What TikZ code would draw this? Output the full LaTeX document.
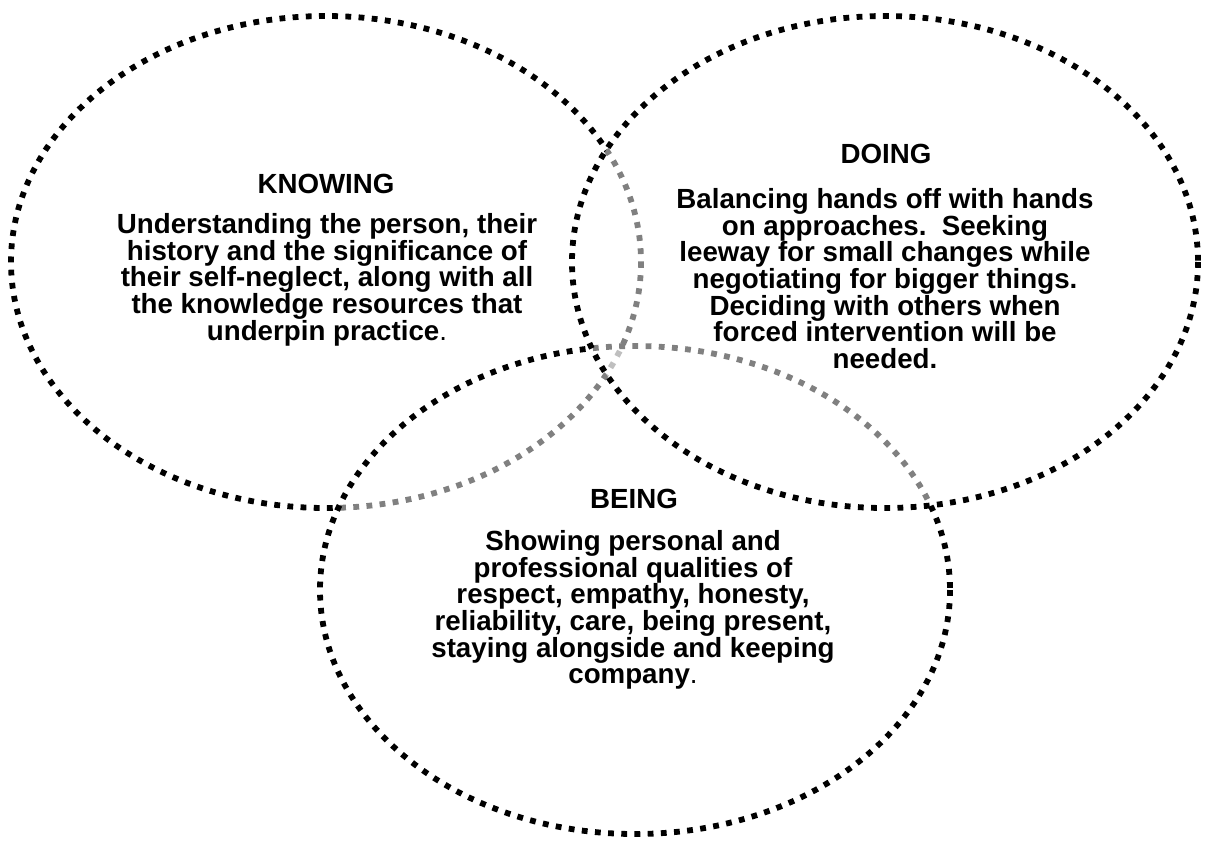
\documentclass[tikz,border=0pt]{standalone}
\usepackage{fontspec}
\setmainfont{Liberation Sans}
\def \ringcolor {black}
\def \ringxradius {315}
\def \ringyradius {246}
\def \textsize {\fontsize{13.85}{13.35}\selectfont\bfseries}
\tikzset{
  ring/.style={draw=\ringcolor, line width=2.9pt, dash pattern=on 2.9pt off 3.7pt,
    fill=white, fill opacity=0.5},
  heading/.style={font=\textsize, inner sep=0pt, anchor=base},
  blurb/.style={font=\textsize, inner sep=0pt, anchor=north, align=center}
}

\begin{document}
\begin{tikzpicture}[x=0.5pt, y=-0.5pt]
\useasboundingbox (0,0) rectangle (1205,842);
% Draw the three rings, back to front
\draw[ring] (326,262) ellipse [x radius=\ringxradius, y radius=\ringyradius];
\draw[ring] (635,590) ellipse [x radius=\ringxradius, y radius=244];
\draw[ring] (885,262) ellipse [x radius=313, y radius=\ringyradius];
% Knowing
\node[heading] (knowinghead) at (326,193) {KNOWING};
\node[blurb] (knowingtext) at (327,213) {Understanding the person, their\\
  history and the significance of\\ their self-neglect, along with all\\
  the knowledge resources that\\ underpin practice\textmd{.}};
% Doing
\node[heading] (doinghead) at (886,163) {DOING};
\node[blurb] (doingtext) at (885,188) {Balancing hands off with hands\\
  on approaches.\ \ Seeking\\ leeway for small changes while\\
  negotiating for bigger things.\\ Deciding with others when\\
  forced intervention will be\\ needed.};
% Being
\node[heading] (beinghead) at (634,508) {BEING};
\node[blurb] (beingtext) at (633,530) {Showing personal and\\
  professional qualities of\\ respect, empathy, honesty,\\
  reliability, care, being present,\\ staying alongside and keeping\\
  company\textmd{.}};
\end{tikzpicture}
\end{document}
